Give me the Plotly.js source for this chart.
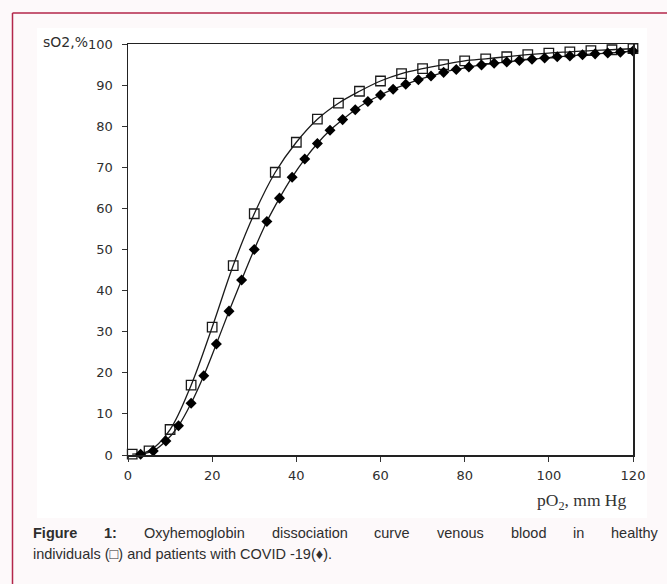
<!DOCTYPE html>
<html>
<head>
<meta charset="utf-8">
<script src="https://cdn.plot.ly/plotly-3.0.1.min.js"></script>
<style>
html,body{margin:0;padding:0;background:#fdf9fa;}
#chart{width:667px;height:584px;}
</style>
</head>
<body>
<div id="chart"></div>
<script>
// Healthy individuals (open squares)
const healthyPO2 = [1, 5, 10, 15, 20, 25, 30, 35, 40, 45, 50, 55, 60, 65, 70, 75, 80, 85, 90, 95, 100, 105, 110, 115, 120];
const healthySO2 = [0.2, 1.0, 6.2, 17.0, 31.1, 46.1, 58.7, 68.8, 76.1, 81.7, 85.6, 88.5, 91.0, 92.8, 94.0, 95.0, 95.9, 96.4, 96.9, 97.4, 97.8, 98.1, 98.4, 98.6, 98.9];
// COVID-19 patients (filled diamonds)
const covidPO2 = [3, 6, 9, 12, 15, 18, 21, 24, 27, 30, 33, 36, 39, 42, 45, 48, 51, 54, 57, 60, 63, 66, 69, 72, 75, 78, 81, 84, 87, 90, 93, 96, 99, 102, 105, 108, 111, 114, 117, 120];
const covidSO2 = [0.2, 1.0, 3.4, 7.1, 12.6, 19.3, 27.0, 35.0, 42.6, 50.0, 56.8, 62.5, 67.6, 72.0, 75.8, 79.0, 81.6, 84.0, 86.0, 87.6, 89.0, 90.2, 91.3, 92.2, 93.1, 93.8, 94.4, 94.9, 95.3, 95.6, 96.0, 96.3, 96.6, 96.9, 97.1, 97.4, 97.6, 97.8, 98.0, 98.3];
const xTicks = [0, 20, 40, 60, 80, 100, 120];
const yTicks = [0, 10, 20, 30, 40, 50, 60, 70, 80, 90, 100];
const yLabel = 'sO2,%';
const xLabel = 'pO<sub>2</sub>, mm Hg';
const captionLine1 = ['<b>Figure</b>', '<b>1:</b>', 'Oxyhemoglobin', 'dissociation', 'curve', 'venous', 'blood', 'in', 'healthy'];
const captionLine2 = 'individuals (□) and patients with COVID -19(♦).';

const W = 667, H = 584;
const L = 128, R = 633, T = 44, B = 455;
const px = x => (x - L) / (R - L);
const py = y => (B - y) / (B - T);

const capFont = 14.5;
const capColor = '#2e2e2e';
const capFam = '"Liberation Sans", Arial, sans-serif';
const capY1 = 533, capY2 = 554;
const capLeft = 31, capRight = 656;

// justify line 1 using measured word widths
const cv = document.createElement('canvas').getContext('2d');
function measure(w){
  const bold = w.indexOf('<b>') >= 0;
  const t = w.replace(/<[^>]+>/g, '');
  cv.font = (bold ? 'bold ' : '') + capFont + 'px "Liberation Sans", Arial, sans-serif';
  return cv.measureText(t).width;
}
const widths = captionLine1.map(measure);
const totalW = widths.reduce((a,b)=>a+b,0);
const gap = (capRight - capLeft - totalW) / (captionLine1.length - 1);
const annotations = [];
let cx = capLeft;
captionLine1.forEach((w,i)=>{
  annotations.push({xref:'paper', yref:'paper', x:px(cx), y:py(capY1), xanchor:'left', yanchor:'middle',
    text:w, showarrow:false, font:{family:capFam, size:capFont, color:capColor}});
  cx += widths[i] + gap;
});
annotations.push({xref:'paper', yref:'paper', x:px(capLeft), y:py(capY2), xanchor:'left', yanchor:'middle',
  text:captionLine2, showarrow:false, font:{family:capFam, size:capFont, color:capColor}});
annotations.push({xref:'paper', yref:'paper', x:px(41), y:py(42), xanchor:'left', yanchor:'middle',
  text:yLabel, showarrow:false, font:{family:'"DejaVu Sans", sans-serif', size:14, color:'#2e2e2e'}});
annotations.push({xref:'paper', yref:'paper', x:px(629), y:py(501), xanchor:'right', yanchor:'middle',
  text:xLabel, showarrow:false, font:{family:'"Liberation Serif", "Times New Roman", serif', size:17.5, color:'#333333'}});

const shapes = [
  // inner white figure panel
  {type:'rect', xref:'paper', yref:'paper', x0:px(37), x1:px(647), y0:py(518), y1:py(28), fillcolor:'#ffffff', line:{width:0}, layer:'below'},
  // crimson frame lines
  {type:'line', xref:'paper', yref:'paper', x0:px(12.5), x1:px(700), y0:py(13), y1:py(13), line:{color:'#b3264a', width:1.5}},
  {type:'line', xref:'paper', yref:'paper', x0:px(12.5), x1:px(12.5), y0:py(13), y1:py(600), line:{color:'#b3264a', width:1.5}}
];

const traces = [
  {x:healthyPO2, y:healthySO2, type:'scatter', mode:'lines+markers', name:'Healthy',
   line:{color:'#1a1a1a', width:1.3, shape:'spline', smoothing:1},
   marker:{symbol:'square-open', size:9.5, color:'#1a1a1a', line:{width:1.3, color:'#1a1a1a'}},
   cliponaxis:false},
  {x:covidPO2, y:covidSO2, type:'scatter', mode:'lines+markers', name:'COVID-19',
   line:{color:'#1a1a1a', width:1.3, shape:'spline', smoothing:1},
   marker:{symbol:'diamond', size:8.5, color:'#000000'},
   cliponaxis:false}
];

const axisFont = {family:'"DejaVu Sans", sans-serif', size:13, color:'#2e2e2e'};
const layout = {
  width:W, height:H,
  margin:{l:L, r:W-R, t:T, b:H-B, pad:0},
  paper_bgcolor:'#fdf9fa', plot_bgcolor:'#ffffff',
  showlegend:false,
  font:axisFont,
  xaxis:{range:[0,120], tickvals:xTicks, ticktext:xTicks.map(String), ticks:'outside', ticklen:5, tickwidth:1, tickcolor:'#333',
    showline:true, linecolor:'#222', linewidth:1.5, mirror:true, showgrid:false, zeroline:false, tickfont:axisFont, fixedrange:true,
    ticklabelstandoff:3},
  yaxis:{range:[0,100], tickvals:yTicks, ticktext:yTicks.map(String), ticks:'outside', ticklen:5, tickwidth:1, tickcolor:'#333',
    showline:true, linecolor:'#222', linewidth:1.5, mirror:true, showgrid:false, zeroline:false, tickfont:axisFont, fixedrange:true,
    ticklabelstandoff:6},
  shapes:shapes,
  annotations:annotations
};
Plotly.newPlot('chart', traces, layout, {displayModeBar:false, staticPlot:true});
</script>
</body>
</html>
